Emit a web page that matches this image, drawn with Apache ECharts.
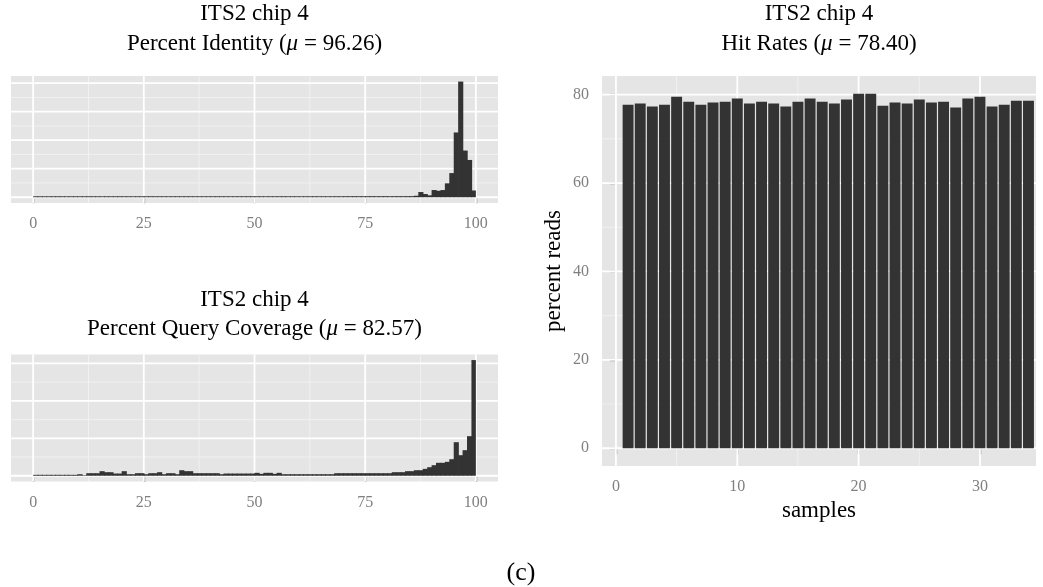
<!DOCTYPE html>
<html>
<head>
<meta charset="utf-8">
<script src="https://cdn.jsdelivr.net/npm/echarts@6/dist/echarts.min.js"></script>
<style>
  html, body { margin: 0; padding: 0; background: #ffffff; }
  #chart { width: 1043px; height: 587px; }
</style>
</head>
<body>
<div id="chart"></div>
<script>
// Histogram of percent identity, one count per 1%-wide bin starting at 0
const identityCounts = [
  26, 26, 25, 26, 26, 27, 26, 25, 26, 26,
  26, 26, 27, 26, 26, 25, 26, 26, 26, 27,
  26, 26, 25, 26, 26, 26, 27, 26, 26, 26,
  25, 26, 26, 26, 27, 26, 26, 25, 26, 26,
  26, 27, 26, 26, 25, 26, 26, 26, 27, 26,
  26, 26, 25, 26, 26, 26, 27, 26, 26, 26,
  25, 26, 26, 27, 26, 26, 26, 26, 27, 26,
  28, 28, 29, 28, 28, 29, 30, 28, 29, 30,
  28, 29, 30, 29, 30, 32, 45, 175, 105, 60,
  245, 220, 245, 480, 840, 2265, 4050, 1630, 1300, 230
];

// Histogram of percent query coverage, same bins
const coverageCounts = [
  19, 20, 19, 20, 19, 20, 19, 20, 19, 19,
  35, 9, 62, 62, 62, 116, 89, 89, 53, 53,
  116, 35, 35, 62, 62, 35, 62, 62, 89, 35,
  62, 62, 35, 142, 116, 116, 62, 62, 62, 62,
  62, 62, 35, 53, 53, 53, 53, 53, 53, 53,
  72, 45, 72, 72, 45, 72, 35, 35, 35, 35,
  35, 35, 35, 35, 35, 35, 35, 35, 62, 62,
  62, 62, 62, 62, 62, 62, 62, 62, 62, 62,
  62, 89, 89, 89, 116, 116, 142, 142, 178, 222,
  276, 340, 340, 366, 436, 890, 543, 677, 1051, 3083
];
const binWidth = 1;

// Hit rate per sample
const sampleIds = [
  1, 2, 3, 4, 5, 6, 7, 8, 9, 10, 11, 12, 13, 14, 15, 16, 17,
  18, 19, 20, 21, 22, 23, 24, 25, 26, 27, 28, 29, 30, 31, 32, 33, 34
];
const hitRates = [
  77.7, 78.0, 77.3, 77.7, 79.5, 78.4, 77.7, 78.2, 78.4, 79.1, 78.0, 78.4,
  78.0, 77.3, 78.4, 79.1, 78.4, 78.0, 78.9, 80.2, 80.2, 77.5, 78.2, 78.0,
  78.9, 78.2, 78.4, 77.1, 79.1, 79.5, 77.3, 77.7, 78.6, 78.6
];
const barWidth = 0.9;

// Tick and grid-line positions
const pctTicks = [0, 25, 50, 75, 100];
const pctMinor = [12.5, 37.5, 62.5, 87.5];
const identityMajor = [0, 1000, 2000, 3000, 4000];
const identityMinor = [500, 1500, 2500, 3500];
const coverageMajor = [0, 1000, 2000, 3000];
const coverageMinor = [500, 1500, 2500];
const sampleTicks = [0, 10, 20, 30];
const sampleMinor = [5, 15, 25];
const readTicks = [0, 20, 40, 60, 80];
const readMinor = [10, 30, 50, 70];

const SERIF = '"Liberation Serif", "DejaVu Serif", serif';
const TICK_GREY = '#7f7f7f';
const TICK_FONT = 16;

function maxOf(arr) { return arr.reduce((a, b) => Math.max(a, b), -Infinity); }

// Padded count range, 5% on each side
function countRange(counts) {
  const m = maxOf(counts);
  return [-0.05 * m, 1.05 * m];
}

// Grid-line items: [x, y, horizontal?, major?]
function gridItems(xMajor, xMinor, yMajor, yMinor) {
  const out = [];
  xMinor.forEach(v => out.push([v, 0, 0, 0]));
  yMinor.forEach(v => out.push([0, v, 1, 0]));
  xMajor.forEach(v => out.push([v, 0, 0, 1]));
  yMajor.forEach(v => out.push([0, v, 1, 1]));
  return out;
}

function gridLineSeries(idx, items) {
  return {
    type: 'custom',
    xAxisIndex: idx, yAxisIndex: idx,
    z: 1, silent: true, animation: false,
    encode: { x: 0, y: 1 },
    data: items,
    renderItem(params, api) {
      const cs = params.coordSys;
      const p = api.coord([api.value(0), api.value(1)]);
      const horiz = api.value(2) === 1;
      const major = api.value(3) === 1;
      const shape = horiz
        ? { x1: cs.x, y1: p[1], x2: cs.x + cs.width, y2: p[1] }
        : { x1: p[0], y1: cs.y, x2: p[0], y2: cs.y + cs.height };
      return {
        type: 'line', shape,
        style: { stroke: major ? '#ffffff' : '#f2f2f2', lineWidth: major ? 1.8 : 0.9 }
      };
    }
  };
}

// Histogram bins; each rect overlaps its right neighbour slightly so no seams show
function histogramSeries(idx, counts) {
  return {
    type: 'custom',
    xAxisIndex: idx, yAxisIndex: idx,
    z: 3, silent: true, animation: false,
    encode: { x: 0, y: 1 },
    data: counts.map((c, i) => [i * binWidth, c]),
    renderItem(params, api) {
      const x0 = api.value(0);
      const p0 = api.coord([x0, api.value(1)]);
      const p1 = api.coord([x0 + binWidth, 0]);
      const last = params.dataIndex === counts.length - 1;
      return {
        type: 'rect',
        shape: {
          x: p0[0], y: p0[1] - 0.2,
          width: p1[0] - p0[0] + (last ? 0 : 0.7),
          height: p1[1] - p0[1] + 0.2
        },
        style: { fill: '#333333' }
      };
    }
  };
}

function hitSeries(idx) {
  return {
    type: 'custom',
    xAxisIndex: idx, yAxisIndex: idx,
    z: 3, silent: true, animation: false,
    encode: { x: 0, y: 1 },
    data: sampleIds.map((s, i) => [s, hitRates[i]]),
    renderItem(params, api) {
      const s = api.value(0);
      const p0 = api.coord([s - barWidth / 2, api.value(1)]);
      const p1 = api.coord([s + barWidth / 2, 0]);
      return {
        type: 'rect',
        shape: { x: p0[0], y: p0[1], width: p1[0] - p0[0], height: p1[1] - p0[1] },
        style: { fill: '#333333' }
      };
    }
  };
}

function xAxisDef(idx, min, max, ticks, extra) {
  return Object.assign({
    gridIndex: idx, type: 'value', min, max,
    splitLine: { show: false },
    axisLine: { show: false },
    axisTick: { show: true, customValues: ticks, length: 6, lineStyle: { color: TICK_GREY, width: 1.4 } },
    axisLabel: { customValues: ticks, margin: 13, color: TICK_GREY, fontFamily: SERIF, fontSize: TICK_FONT }
  }, extra || {});
}

function hiddenYAxis(idx, range) {
  return {
    gridIndex: idx, type: 'value', min: range[0], max: range[1],
    splitLine: { show: false }, axisLine: { show: false },
    axisTick: { show: false }, axisLabel: { show: false }
  };
}

function titleText(x, y, text, size) {
  return {
    type: 'text', x, y, silent: true,
    style: {
      text, fill: '#000000',
      fontFamily: SERIF, fontSize: size,
      align: 'center', verticalAlign: 'middle',
      textAlign: 'center', textVerticalAlign: 'middle',
      rich: { i: { fontStyle: 'italic', fontFamily: SERIF, fontSize: size, fill: '#000000' } }
    }
  };
}

const identityRange = countRange(identityCounts);
const coverageRange = countRange(coverageCounts);
const readMax = maxOf(hitRates);
const readRange = [-0.05 * readMax, 1.05 * readMax];

const chart = echarts.init(document.getElementById('chart'), null, { renderer: 'canvas' });
chart.setOption({
  animation: false,
  backgroundColor: '#ffffff',
  grid: [
    { left: 11, top: 76, width: 487, height: 127, show: true, backgroundColor: '#e5e5e5', borderWidth: 0 },
    { left: 11, top: 354.5, width: 487, height: 127, show: true, backgroundColor: '#e5e5e5', borderWidth: 0 },
    { left: 602, top: 76, width: 434, height: 390, show: true, backgroundColor: '#e5e5e5', borderWidth: 0 }
  ],
  xAxis: [
    xAxisDef(0, -5, 105, pctTicks),
    xAxisDef(1, -5, 105, pctTicks),
    xAxisDef(2, -1.15, 34.62, sampleTicks, {
      name: 'samples', nameLocation: 'middle', nameGap: 31,
      nameTextStyle: { fontFamily: SERIF, fontSize: 23, color: '#000000' }
    })
  ],
  yAxis: [
    hiddenYAxis(0, identityRange),
    hiddenYAxis(1, coverageRange),
    {
      gridIndex: 2, type: 'value', min: readRange[0], max: readRange[1],
      splitLine: { show: false }, axisLine: { show: false },
      axisTick: { show: true, customValues: readTicks, length: 6, lineStyle: { color: TICK_GREY, width: 1.4 } },
      axisLabel: { customValues: readTicks, margin: 13, color: TICK_GREY, fontFamily: SERIF, fontSize: TICK_FONT },
      name: 'percent reads', nameLocation: 'middle', nameGap: 37,
      nameTextStyle: { fontFamily: SERIF, fontSize: 23, color: '#000000' }
    }
  ],
  series: [
    gridLineSeries(0, gridItems(pctTicks, pctMinor, identityMajor, identityMinor)),
    histogramSeries(0, identityCounts),
    gridLineSeries(1, gridItems(pctTicks, pctMinor, coverageMajor, coverageMinor)),
    histogramSeries(1, coverageCounts),
    gridLineSeries(2, gridItems(sampleTicks, sampleMinor, readTicks, readMinor)),
    hitSeries(2)
  ],
  graphic: [
    titleText(254.5, 14, 'ITS2 chip 4', 23),
    titleText(254.5, 44, 'Percent Identity ({i|μ} = 96.26)', 23),
    titleText(254.5, 300, 'ITS2 chip 4', 23),
    titleText(254.5, 329, 'Percent Query Coverage ({i|μ} = 82.57)', 23),
    titleText(819, 14, 'ITS2 chip 4', 23),
    titleText(819, 44, 'Hit Rates ({i|μ} = 78.40)', 23),
    titleText(521, 573, '(c)', 26)
  ]
});
</script>
</body>
</html>
